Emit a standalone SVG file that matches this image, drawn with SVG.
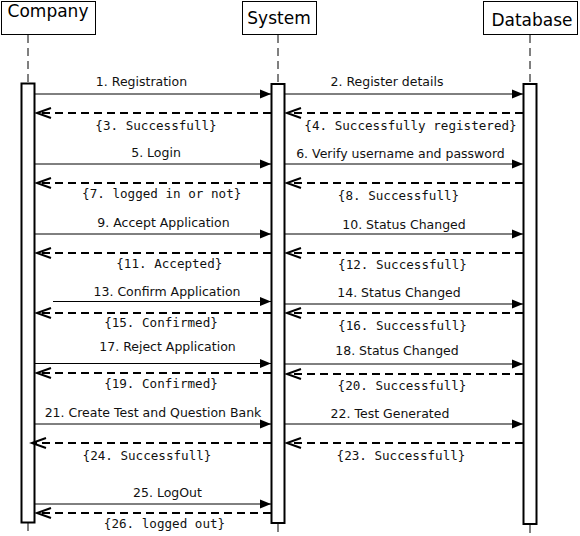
<svg xmlns="http://www.w3.org/2000/svg" width="580" height="536" viewBox="0 0 580 536">
<style>
.box{fill:#fff;stroke:#000;stroke-width:1}
.bar{fill:#fff;stroke:#000;stroke-width:2}
.life{stroke:#000;stroke-width:1;stroke-dasharray:8,5;fill:none}
.hd{font-family:"DejaVu Sans",Verdana,sans-serif;font-size:17px;fill:#000;text-anchor:middle}
.lbl{font-family:"DejaVu Sans",Verdana,sans-serif;font-size:12.5px;fill:#111;text-anchor:middle}
.ret{font-family:"DejaVu Sans Mono","Liberation Mono",monospace;font-size:12.6px;fill:#111;text-anchor:middle}
.msg{stroke:#000;stroke-width:1;fill:none;marker-end:url(#filled)}
.rmsg{stroke:#000;stroke-width:2;stroke-dasharray:8,5;fill:none;marker-end:url(#open)}
</style>
<defs>
<marker id="filled" markerUnits="userSpaceOnUse" markerWidth="12" markerHeight="10" refX="11" refY="4.5" orient="auto" overflow="visible">
<path d="M0,0 L11,4.5 L0,9 z" fill="#000" stroke="none"/>
</marker>
<marker id="open" markerUnits="userSpaceOnUse" markerWidth="16" markerHeight="12" refX="14" refY="5" orient="auto" overflow="visible">
<path d="M0,0 L14,5 L0,10" fill="none" stroke="#000" stroke-width="2" stroke-dasharray="none"/>
</marker>
</defs>
<rect width="580" height="536" fill="#fff"/>
<g id="company">
<rect class="box" x="1.5" y="1.5" width="94" height="33"/>
<text class="hd" x="48" y="17">Company</text>
<line class="life" x1="28" y1="35" x2="28" y2="83"/>
<line class="life" x1="28" y1="523" x2="28" y2="536"/>
<rect class="bar" x="21.5" y="83.5" width="13" height="439"/>
</g>
<g id="system">
<rect class="box" x="242.5" y="1.5" width="74" height="33"/>
<text class="hd" x="279" y="23.5">System</text>
<line class="life" x1="278" y1="35" x2="278" y2="84"/>
<line class="life" x1="278" y1="524" x2="278" y2="536"/>
<rect class="bar" x="271.5" y="84" width="13" height="439"/>
</g>
<g id="database">
<rect class="box" x="483.5" y="1.5" width="94" height="33"/>
<text class="hd" x="532" y="26">Database</text>
<line class="life" x1="530" y1="35" x2="530" y2="84"/>
<line class="life" x1="530" y1="525" x2="530" y2="536"/>
<rect class="bar" x="523.5" y="84" width="13" height="440"/>
</g>
<g id="connectors">
<line class="msg" x1="35" y1="94" x2="271" y2="94"/>
<line class="msg" x1="285" y1="94" x2="523" y2="94"/>
<line class="rmsg" x1="271" y1="113" x2="37" y2="113"/>
<line class="rmsg" x1="523" y1="113" x2="287" y2="113"/>
<line class="msg" x1="35" y1="164" x2="271" y2="164"/>
<line class="msg" x1="285" y1="164" x2="523" y2="164"/>
<line class="rmsg" x1="271" y1="183" x2="37" y2="183"/>
<line class="rmsg" x1="523" y1="183" x2="287" y2="183"/>
<line class="msg" x1="35" y1="234" x2="271" y2="234"/>
<line class="msg" x1="285" y1="234" x2="523" y2="234"/>
<line class="rmsg" x1="271" y1="253" x2="37" y2="253"/>
<line class="rmsg" x1="523" y1="253" x2="287" y2="253"/>
<line class="msg" x1="53" y1="301.5" x2="271" y2="301.5"/>
<line class="msg" x1="285" y1="304" x2="523" y2="304"/>
<line class="rmsg" x1="271" y1="313" x2="37" y2="313"/>
<line class="rmsg" x1="523" y1="313" x2="287" y2="313"/>
<line class="msg" x1="35" y1="363.5" x2="271" y2="363.5"/>
<line class="msg" x1="285" y1="364" x2="523" y2="364"/>
<line class="rmsg" x1="271" y1="373" x2="37" y2="373"/>
<line class="rmsg" x1="523" y1="374" x2="287" y2="374"/>
<line class="msg" x1="35" y1="424" x2="271" y2="424"/>
<line class="msg" x1="285" y1="424" x2="523" y2="424"/>
<line class="rmsg" x1="271" y1="443" x2="32" y2="443"/>
<line class="rmsg" x1="523" y1="443" x2="287" y2="443"/>
<line class="msg" x1="35" y1="504" x2="271" y2="504"/>
<line class="rmsg" x1="271" y1="513" x2="37" y2="513"/>
</g>
<g id="labels">
<text class="lbl" x="141.5" y="86">1. Registration</text>
<text class="lbl" x="387" y="86">2. Register details</text>
<text class="ret" x="156" y="130">{3. Successfull}</text>
<text class="ret" x="410.5" y="130">{4. Successfully registered}</text>
<text class="lbl" x="156" y="157">5. Login</text>
<text class="lbl" x="400.5" y="158">6. Verify username and password</text>
<text class="ret" x="161.7" y="198">{7. logged in or not}</text>
<text class="ret" x="398.5" y="200">{8. Successfull}</text>
<text class="lbl" x="163.5" y="227">9. Accept Application</text>
<text class="lbl" x="404" y="229">10. Status Changed</text>
<text class="ret" x="169.3" y="268">{11. Accepted}</text>
<text class="ret" x="402.5" y="269">{12. Successfull}</text>
<text class="lbl" x="167" y="296">13. Confirm Application</text>
<text class="lbl" x="399" y="297">14. Status Changed</text>
<text class="ret" x="161" y="327">{15. Confirmed}</text>
<text class="ret" x="402.5" y="330">{16. Successfull}</text>
<text class="lbl" x="167.5" y="351">17. Reject Application</text>
<text class="lbl" x="397" y="355">18. Status Changed</text>
<text class="ret" x="161" y="388">{19. Confirmed}</text>
<text class="ret" x="402" y="390">{20. Successfull}</text>
<text class="lbl" x="153" y="417">21. Create Test and Question Bank</text>
<text class="lbl" x="390" y="418">22. Test Generated</text>
<text class="ret" x="147" y="460">{24. Successfull}</text>
<text class="ret" x="401" y="460">{23. Successfull}</text>
<text class="lbl" x="167.5" y="497">25. LogOut</text>
<text class="ret" x="164.5" y="528">{26. logged out}</text>
</g>
</svg>
